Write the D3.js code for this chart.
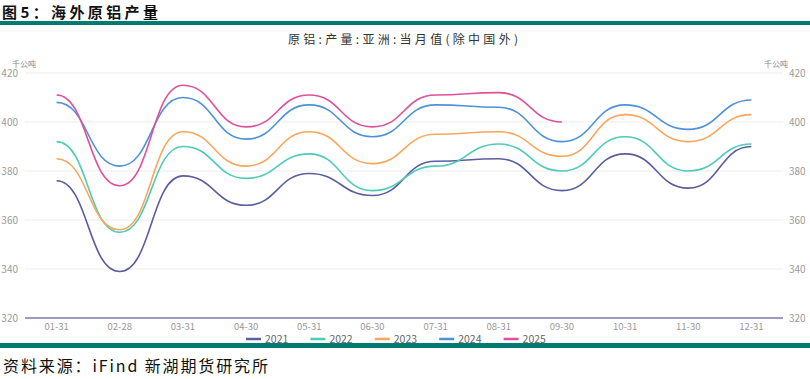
<!DOCTYPE html>
<html><head><meta charset="utf-8">
<script src="https://cdn.jsdelivr.net/npm/d3@7"></script>
<style>body{margin:0;background:#fff;}svg{display:block;}</style>
</head><body>
<svg id="c" width="810" height="379"></svg>
<script>
const categories = ["01-31","02-28","03-31","04-30","05-31","06-30","07-31","08-31","09-30","10-31","11-30","12-31"];
const yearNames = ["2021","2022","2023","2024","2025"];
const v2021 = [376,339,378,366,379,370,384,385,372,387,373,390];
const v2022 = [392,355,390,377,387,372,382,391,380,394,380,391];
const v2023 = [385,356,396,382,396,383,395,396,386,403,392,403];
const v2024 = [408,382,410,393,407,394,407,406,392,407,397,409];
const v2025 = [411,374,415,398,411,398,411,412,400];
const yTicks = [320,340,360,380,400,420];
const colors = ["#5b5e9f","#4fcbb8","#f8a75c","#4e92da","#df519b"];
const seriesValues = [v2021,v2022,v2023,v2024,v2025];

const svg = d3.select("#c");
const F = "'Noto Sans CJK SC','Noto Sans',sans-serif";

// header
svg.append("text").attr("x",2).attr("y",18).attr("font-family",F).attr("font-weight","bold")
  .attr("font-size",15).attr("fill","#111").attr("textLength",156).attr("lengthAdjust","spacing")
  .text("图5：海外原铝产量");
svg.append("rect").attr("x",0).attr("y",21).attr("width",810).attr("height",4).attr("fill","#007a72");
svg.append("rect").attr("x",0).attr("y",343).attr("width",810).attr("height",5).attr("fill","#007a72");
svg.append("text").attr("x",3).attr("y",372).attr("font-family",F).attr("font-size",16)
  .attr("fill","#111").attr("textLength",265).attr("lengthAdjust","spacing")
  .text("资料来源：iFind 新湖期货研究所");

svg.append("text").attr("x",288).attr("y",44).attr("font-family",F)
  .attr("font-size",12).attr("fill","#333").attr("textLength",230).attr("lengthAdjust","spacing")
  .text("原铝:产量:亚洲:当月值(除中国外)");

const x0 = 25, x1 = 783;
const x = d3.scalePoint().domain(categories).range([x0,x1]).padding(0.5);
const y = d3.scaleLinear().domain([320,420]).range([318,73]);

// grid
svg.append("g").selectAll("line").data(yTicks.filter(t=>t!==320)).join("line")
  .attr("x1",x0).attr("x2",x1).attr("y1",d=>y(d)).attr("y2",d=>y(d))
  .attr("stroke","#ececec").attr("stroke-width",1);

// left/right tick labels
svg.append("g").selectAll("text").data(yTicks).join("text")
  .attr("x",18).attr("y",d=>y(d)+4).attr("text-anchor","end").attr("font-family",F)
  .attr("font-size",10).attr("fill","#9a9a9a").text(d=>d);
svg.append("g").selectAll("text").data(yTicks).join("text")
  .attr("x",789).attr("y",d=>y(d)+4).attr("text-anchor","start").attr("font-family",F)
  .attr("font-size",10).attr("fill","#9a9a9a").text(d=>d);
svg.append("text").attr("x",12).attr("y",67).attr("text-anchor","start").attr("font-family",F)
  .attr("font-size",8).attr("fill","#888").text("千公吨");
svg.append("text").attr("x",788).attr("y",67).attr("text-anchor","end").attr("font-family",F)
  .attr("font-size",8).attr("fill","#888").text("千公吨");

// x axis
svg.append("line").attr("x1",x0).attr("x2",x1).attr("y1",y(320)).attr("y2",y(320))
  .attr("stroke","#7a7aa8").attr("stroke-width",1.5);
svg.append("g").selectAll("text").data(categories).join("text")
  .attr("x",d=>x(d)).attr("y",330).attr("text-anchor","middle").attr("font-family",F)
  .attr("font-size",9.5).attr("fill","#999").text(d=>d);

// smooth line (horizontal tangents at each point)
function smoothPath(vals){
  const p = d3.path();
  const pts = vals.map((v,i)=>[x(categories[i]), y(v)]);
  p.moveTo(pts[0][0], pts[0][1]);
  for(let i=1;i<pts.length;i++){
    const [ax,ay]=pts[i-1], [bx,by]=pts[i];
    const dx = bx-ax;
    p.bezierCurveTo(ax+dx*0.5, ay, bx-dx*0.5, by, bx, by);
  }
  return p.toString();
}
seriesValues.forEach((vals,k)=>{
  svg.append("path").attr("d",smoothPath(vals)).attr("fill","none")
    .attr("stroke",colors[k]).attr("stroke-width",1.6);
});

// legend
const lg = svg.append("g");
yearNames.forEach((n,k)=>{
  const lx = 246 + k*64.4;
  lg.append("line").attr("x1",lx).attr("x2",lx+15).attr("y1",339).attr("y2",339)
    .attr("stroke",colors[k]).attr("stroke-width",2.5);
  lg.append("text").attr("x",lx+19).attr("y",342.5).attr("font-family",F).attr("font-size",10.5)
    .attr("fill","#666").text(n);
});
</script>
</body></html>
